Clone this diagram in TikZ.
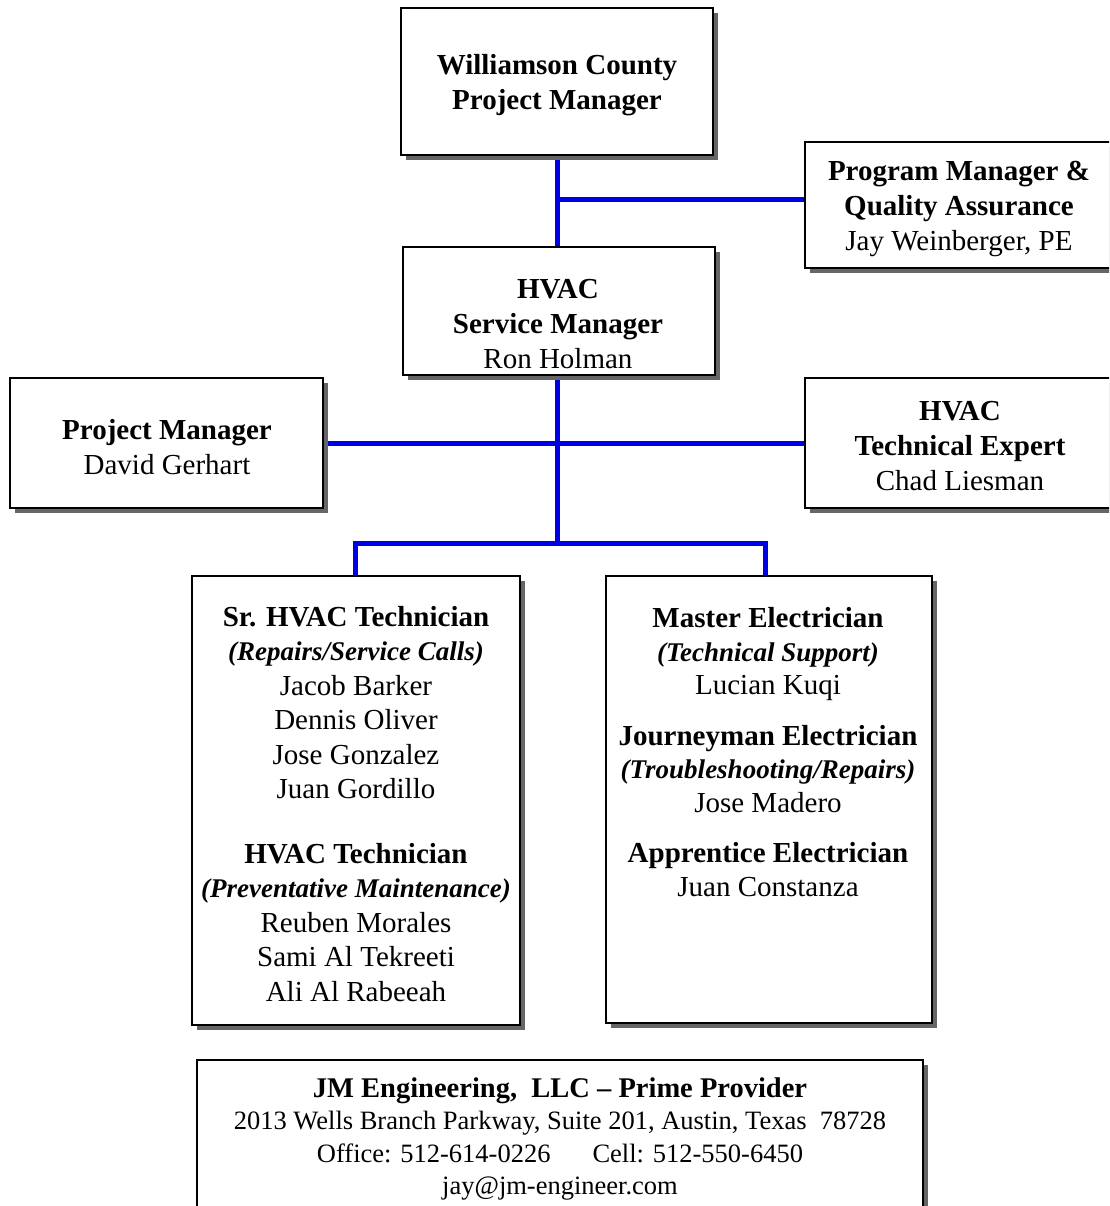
\documentclass[tikz,border=0pt]{standalone}
\usepackage{fontspec}
\setmainfont{Liberation Serif}
\usetikzlibrary{shadows}
\definecolor{linkblue}{RGB}{0,0,230}
\newcommand{\orgit}[1]{{\fontsize{27}{34.5}\selectfont\bfseries\itshape #1}}
\begin{document}
\begin{tikzpicture}[x=1pt,y=-1pt,
  box/.style={draw=black, line width=1.6pt, fill=white, rectangle, inner sep=0pt,
    drop shadow={shadow xshift=5pt, shadow yshift=-5pt, fill=black!60, opacity=1}},
  txt/.style={align=center, inner sep=0pt, font=\fontsize{29}{35}\selectfont},
  link/.style={draw=linkblue, line width=5pt, line join=miter}]
\clip (0,0) rectangle (1109,1206);
\fill[white] (0,0) rectangle (1109,1206);
% junction coordinates
\coordinate (jA) at (557,200);
\coordinate (jB) at (557,443);
\coordinate (jC) at (557,543);
\coordinate (jL) at (355,543);
\coordinate (jR) at (765,543);
% boxes (positions only)
\path
  (557,81.5) coordinate (ptop)
  (960,205) coordinate (ppmqa)
  (559,311) coordinate (phsm)
  (166.5,443) coordinate (ppm)
  (960,443) coordinate (pte)
  (356,800.5) coordinate (psr)
  (769,799.5) coordinate (pme)
  (560,1137.5) coordinate (pbot);
% connectors drawn first (boxes cover their ends)
\path[link] (ptop) -- (jA);
\path[link] (jA) -- (jC);
\path[link] (jA) -- (jA -| ppmqa);
\path[link] (ppm) -- (pte);
\path[link] (jL |- psr) -- (jL) -- (jR) -- (jR |- pme);
% boxes
\node[box, minimum width=312pt, minimum height=147pt] (top) at (ptop) {};
\node[box, minimum width=310pt, minimum height=126pt] (pmqa) at (ppmqa) {};
\node[box, minimum width=312pt, minimum height=128pt] (hsm) at (phsm) {};
\node[box, minimum width=313pt, minimum height=130pt] (pm) at (ppm) {};
\node[box, minimum width=310pt, minimum height=130pt] (te) at (pte) {};
\node[box, minimum width=328pt, minimum height=449pt] (sr) at (psr) {};
\node[box, minimum width=326pt, minimum height=447pt] (me) at (pme) {};
\node[box, minimum width=726pt, minimum height=155pt] (bot) at (pbot) {};
% texts
\node[txt] (ttop) at (557,85) {\textbf{Williamson County}\\\textbf{Project Manager}};
\node[txt] (tpmqa) at (959,208.5) {\textbf{Program Manager \&}\\\textbf{Quality Assurance}\\Jay Weinberger, PE};
\node[txt] (thsm) at (558,324.5) {\textbf{HVAC}\\\textbf{Service Manager}\\Ron Holman};
\node[txt] (tpm) at (167,447) {\textbf{Project Manager}\\David Gerhart};
\node[txt] (tte) at (960,446) {\textbf{HVAC}\\\textbf{Technical Expert}\\Chad Liesman};
\node[txt, font=\fontsize{29}{34.5}\selectfont] (tsr) at (356,804) {\textbf{Sr. HVAC Technician}\\\orgit{(Repairs/Service Calls)}\\Jacob Barker\\Dennis Oliver\\Jose Gonzalez\\Juan Gordillo\\[30pt]\textbf{HVAC Technician}\\\orgit{(Preventative Maintenance)}\\Reuben Morales\\Sami Al Tekreeti\\Ali Al Rabeeah};
\node[txt, font=\fontsize{29}{33.5}\selectfont] (tme) at (768,752) {\textbf{Master Electrician}\\\orgit{(Technical Support)}\\Lucian Kuqi\\[17pt]\textbf{Journeyman Electrician}\\\orgit{(Troubleshooting/Repairs)}\\Jose Madero\\[17pt]\textbf{Apprentice Electrician}\\Juan Constanza};
\node[txt, font=\fontsize{26.5}{32.5}\selectfont] (tbot) at (560,1139) {{\fontsize{28.5}{32.5}\selectfont\bfseries JM Engineering,\ \ LLC -- Prime Provider}\\2013 Wells Branch Parkway, Suite 201, Austin, Texas\ \ 78728\\Office: 512-614-0226\hspace{42pt}Cell: 512-550-6450\\jay@jm-engineer.com};
\end{tikzpicture}
\end{document}
